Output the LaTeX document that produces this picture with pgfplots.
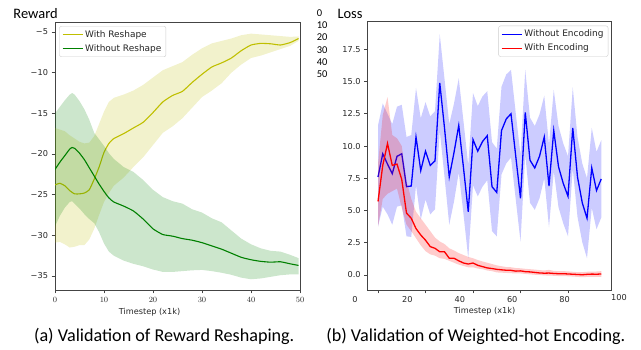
\documentclass[border=0pt]{standalone}
\usepackage{fontspec}
\setmainfont{DejaVu Sans}
\newfontfamily\calib{Carlito}
\usepackage{pgfplots}
\usepackage{pgfplotstable}
\pgfplotsset{compat=1.18}
\definecolor{myyellow}{HTML}{BFBF00}
\definecolor{mygreen}{HTML}{008000}
\definecolor{myblue}{HTML}{0000FF}
\definecolor{myred}{HTML}{FF0000}
\definecolor{spine}{HTML}{444444}

% ---------- mean lines ----------
\pgfplotstableread{
x m
0 -23.8
1 -23.6
2 -23.9
3 -24.5
4 -24.9
5 -24.9
6 -24.8
7 -24.4
8 -23.1
9 -21.6
10 -19.8
11 -18.7
12 -18.1
14 -17.5
16 -16.8
18 -16.1
20 -14.9
22 -13.6
24 -12.8
26 -12.3
28 -11.2
30 -10.2
32 -9.3
34 -8.8
36 -8.2
38 -7.3
40 -6.6
42 -6.4
44 -6.45
46 -6.6
48 -6.3
49.7 -5.8
}\yellowtab

\pgfplotstableread{
x m
0 -21.9
1 -21.0
2 -20.2
3 -19.4
3.5 -19.2
4 -19.3
5 -19.9
6 -20.7
7 -21.7
8 -22.7
9 -23.7
10 -24.6
11 -25.4
12 -25.9
14 -26.4
16 -27.0
18 -28.0
20 -29.2
22 -29.9
24 -30.1
26 -30.4
28 -30.6
30 -30.9
32 -31.3
34 -31.7
36 -32.2
38 -32.7
40 -33.0
42 -33.2
44 -33.3
46 -33.25
48 -33.5
49.7 -33.7
}\greentab

\pgfplotstableread{
x m
0 7.6
2 9.4
4 8.6
6 7.85
8 9.2
10 9.4
12 6.85
14 6.9
16 10.7
18 8.1
20 9.6
22 8.5
24 8.85
26 14.9
28 11.4
30 7.6
32 9.5
34 11.6
36 8.3
38 4.9
40 10.5
42 9.6
44 10.35
46 10.8
48 6.85
50 6.4
52 11.2
54 12.1
56 12.5
58 9.2
60 5.95
62 12.6
64 8.9
66 8.3
68 9.2
70 10.7
72 6.9
74 11.2
76 8.4
78 7.1
80 6.1
82 11.4
84 7.6
86 5.6
88 4.4
90 8.3
92 6.55
94 7.45
}\bluetab

\pgfplotstableread{
x m
0 5.7
2 8.5
4 10.2
6 8.5
8 8.6
10 7.4
12 4.8
14 4.4
16 3.6
18 3.1
20 2.7
22 2.2
24 2.07
26 1.8
28 1.8
30 1.3
32 1.3
34 1.1
36 0.93
38 0.85
40 0.93
42 0.75
44 0.65
46 0.55
48 0.5
50 0.44
52 0.4
54 0.37
56 0.36
58 0.3
60 0.32
62 0.26
64 0.24
66 0.2
68 0.16
70 0.14
72 0.15
74 0.12
76 0.1
78 0.1
80 0.08
82 0.06
84 0.04
86 0.02
88 0.05
90 0.07
92 0.06
94 0.08
}\redtab

% ---------- bands: upper edge forward, lower edge backward ----------
\pgfplotstableread{
x y
0 -16.8
1 -17.0
2 -17.2
3 -17.7
4 -18.1
5 -18.5
6 -18.7
7 -18.6
8 -17.8
9 -16.3
10 -14.8
11 -13.6
12 -13.1
14 -12.7
16 -12.2
18 -11.5
20 -10.6
22 -9.7
24 -9.2
26 -8.7
28 -7.8
30 -7.0
32 -6.4
34 -6.1
36 -5.8
38 -5.4
40 -5.2
42 -5.3
44 -5.4
46 -5.5
48 -5.6
49.7 -5.55
49.7 -6.1
48 -6.7
46 -7.1
44 -7.5
42 -7.9
40 -8.2
38 -9.0
36 -10.0
34 -11.3
32 -12.2
30 -13.0
28 -14.3
26 -15.6
24 -16.6
22 -17.4
20 -18.9
18 -20.4
16 -21.6
14 -22.9
12 -23.9
11 -24.8
10 -25.9
9 -27.5
8 -29.2
7 -30.5
6 -31.2
5 -31.2
4 -31.4
3 -31.5
2 -31.1
1 -30.8
0 -30.9
}\yellowband

\pgfplotstableread{
x y
0 -15.0
1 -14.2
2 -13.4
3 -12.7
3.5 -12.5
4 -12.7
5 -13.5
6 -14.5
7 -15.8
8 -17.4
9 -18.2
10 -19.0
11 -19.9
12 -20.6
14 -21.6
16 -22.2
18 -23.2
20 -24.4
22 -25.3
24 -25.8
26 -26.1
28 -26.8
30 -27.2
32 -27.9
34 -28.4
36 -29.4
38 -30.4
40 -31.1
42 -31.6
44 -31.9
46 -32.0
48 -32.4
49.7 -32.8
49.7 -34.8
48 -34.8
46 -34.9
44 -35.1
42 -35.3
40 -35.4
38 -35.2
36 -34.85
34 -34.6
32 -34.4
30 -34.25
28 -34.3
26 -34.4
24 -34.5
22 -34.5
20 -34.2
18 -33.8
16 -33.5
14 -33.1
12 -32.5
11 -32.0
10 -31.0
9 -29.6
8 -28.5
7 -28.0
6 -27.4
5 -26.7
4 -26.1
3.5 -25.8
3 -25.9
2 -26.6
1 -27.6
0 -28.9
}\greenband

\pgfplotstableread{
x y
0 11.6
2 13.3
4 12.5
6 11.7
8 13.05
10 13.2
12 10.7
14 10.85
16 14.5
18 12.15
20 13.4
22 12.3
24 12.7
26 18.66
28 15.2
30 11.7
32 13.3
34 15.25
36 11.9
38 8.5
40 14.1
42 13.1
44 13.85
46 14.25
48 10.3
50 9.8
52 14.6
54 15.55
56 15.9
58 12.55
60 9.3
62 15.9
64 12.2
66 11.55
68 12.45
70 13.9
72 10.1
74 14.35
76 11.55
78 10.2
80 9.2
82 14.55
84 10.7
86 8.65
88 7.5
90 11.4
92 9.55
94 10.45
94 4.45
92 3.55
90 5.2
88 1.3
86 2.55
84 4.5
82 8.25
80 3.0
78 4.0
76 5.25
74 8.05
72 3.7
70 7.5
68 5.95
66 5.05
64 5.6
62 9.3
60 2.6
58 5.85
56 9.1
54 8.65
52 7.8
50 3.0
48 3.4
46 7.35
44 6.85
42 6.1
40 6.95
38 1.3
36 4.7
34 7.95
32 5.7
30 3.9
28 7.6
26 11.2
24 5.1
22 4.7
20 5.85
18 4.3
16 6.95
14 2.95
12 3.0
10 5.4
8 5.3
6 3.9
4 4.7
2 5.3
0 3.75
}\blueband

\pgfplotstableread{
x y
0 8.6
2 12.4
4 13.8
6 10.85
8 10.6
10 10.0
12 7.3
14 5.9
16 4.9
18 4.4
20 3.9
22 3.4
24 2.9
26 2.6
28 2.4
30 2.07
32 1.9
34 1.7
36 1.55
38 1.4
40 1.3
42 1.16
44 1.05
46 0.95
48 0.85
50 0.75
52 0.68
54 0.62
56 0.6
58 0.54
60 0.52
62 0.48
64 0.45
66 0.42
68 0.38
70 0.35
72 0.4
74 0.32
76 0.3
78 0.3
80 0.28
82 0.25
84 0.22
86 0.22
88 0.25
90 0.27
92 0.27
94 0.3
94 -0.15
92 -0.15
90 -0.15
88 -0.15
86 -0.17
84 -0.15
82 -0.12
80 -0.1
78 -0.08
76 -0.08
74 -0.06
72 -0.05
70 -0.03
68 0.0
66 0.02
64 0.05
62 0.08
60 0.12
58 0.12
56 0.14
54 0.16
52 0.18
50 0.2
48 0.3
46 0.35
44 0.45
42 0.5
40 0.6
38 0.6
36 0.7
34 0.8
32 0.95
30 1.1
28 1.25
26 1.3
24 1.5
22 1.6
20 1.85
18 2.3
16 2.85
14 3.4
12 3.9
10 5.2
8 6.7
6 6.5
4 6.3
2 5.9
0 3.75
}\redband

\pgfplotsset{
  common/.style={
    scale only axis,
    anchor=south west,
    axis line style={draw=spine, line width=0.7bp},
    tick style={draw=spine, line width=0.7bp},
    tick align=outside,
    tick pos=left,
    major tick length=3.5bp,
    tick label style={font=\fontsize{8.2}{9}\selectfont, text=black!85},
    legend cell align=left,
    legend image code/.code={\draw[##1] (0bp,0bp) -- (20bp,0bp);},
    legend style={font=\fontsize{9}{10}\selectfont, draw=black!20, rounded corners=2bp,
      inner xsep=2.5bp, inner ysep=2.2bp, row sep=1.6bp, text=black!85},
  }
}

\begin{document}
\begin{tikzpicture}
\path[use as bounding box] (0,0) rectangle (641bp,350bp);

\begin{axis}[common,
  at={(55bp,60bp)}, width=245bp, height=268bp,
  xmin=0, xmax=50, ymin=-36.72, ymax=-3.77,
  xtick={0,10,20,30,40,50},
  ytick={-35,-30,-25,-20,-15,-10,-5},
  yticklabels={−35,−30,−25,−20,−15,−10,−5},
  legend style={at={(0.0176,0.985)}, anchor=north west},
]
\addplot[fill=myyellow, fill opacity=0.2, draw=none, forget plot] table[x=x,y=y]{\yellowband};
\addplot[myyellow, line width=1.1bp, smooth, tension=0.3] table[x=x,y=m]{\yellowtab};
\addlegendentry{With Reshape}
\addplot[fill=mygreen, fill opacity=0.2, draw=none, forget plot] table[x=x,y=y]{\greenband};
\addplot[mygreen, line width=1.1bp, smooth, tension=0.3] table[x=x,y=m]{\greentab};
\addlegendentry{Without Reshape}
\end{axis}

\begin{axis}[common,
  at={(367.7bp,60bp)}, width=244bp, height=268.3bp,
  xmin=-4.34, xmax=98.4, ymin=-1.163, ymax=19.64,
  xtick={0,20,40,60,80}, xticklabels={},
  ytick={0,2.5,5,7.5,10,12.5,15,17.5},
  yticklabels={0.0,2.5,5.0,7.5,10.0,12.5,15.0,17.5},
  legend style={at={(0.986,0.985)}, anchor=north east},
]
\addplot[fill=myblue, fill opacity=0.2, draw=none, forget plot] table[x=x,y=y]{\blueband};
\addplot[myblue, line width=1.3bp] table[x=x,y=m]{\bluetab};
\addlegendentry{Without Encoding}
\addplot[fill=myred, fill opacity=0.2, draw=none, forget plot] table[x=x,y=y]{\redband};
\addplot[myred, line width=1.3bp] table[x=x,y=m]{\redtab};
\addlegendentry{With Encoding}
\end{axis}

% axis titles and labels
\node[anchor=base west, inner sep=0pt, font=\calib\fontsize{14.5}{16}\selectfont] at (13.3bp,331.7bp) {Reward};
\node[anchor=base west, inner sep=0pt, font=\calib\fontsize{14.5}{16}\selectfont] at (337.3bp,331.7bp) {Loss};
\node[inner sep=0pt, font=\fontsize{8.2}{9}\selectfont, text=black!85] at (149.5bp,38bp) {Timestep (x1k)};
\node[inner sep=0pt, font=\fontsize{8.2}{9}\selectfont, text=black!85] at (484.5bp,38.3bp) {Timestep (x1k)};
% right x tick labels
\foreach \xx/\lab in {355/0,407.4/20,459.8/40,512.2/60,564.6/80}{
  \node[inner sep=0pt, font=\fontsize{8.2}{9}\selectfont, text=black!85] at (\xx bp,50.7bp) {\lab};
}
\node[inner sep=0pt, font=\fontsize{8.2}{9}\selectfont, text=black!85] at (619bp,52.3bp) {100};
% column of numbers between the panels
\foreach \yy/\lab in {333.4/0,321.2/10,309/20,296.8/30,284.6/40,272.4/50}{
  \node[anchor=base west, inner sep=0pt, font=\calib\fontsize{10.5}{12}\selectfont] at (316.7bp,\yy bp) {\lab};
}
% captions
\node[anchor=base, inner sep=0pt, font=\calib\fontsize{18.2}{20}\selectfont] at (164.2bp,9bp) {(a) Validation of Reward Reshaping.};
\node[anchor=base, inner sep=0pt, font=\calib\fontsize{18.2}{20}\selectfont] at (475.8bp,9bp) {(b) Validation of Weighted-hot Encoding.};
\end{tikzpicture}
\end{document}
